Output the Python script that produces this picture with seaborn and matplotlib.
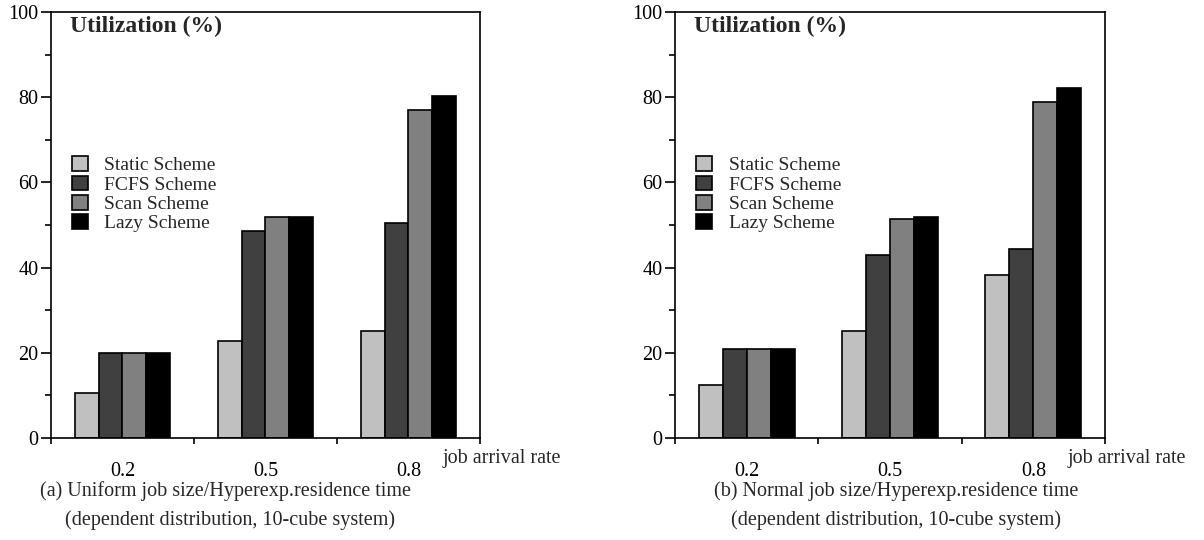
import matplotlib
matplotlib.use("Agg")
import matplotlib.pyplot as plt
import seaborn as sns
import pandas as pd
import numpy as np

# Job arrival rates (categories) and the four allocation schemes
rates = ["0.2", "0.5", "0.8"]
schemes = ["Static Scheme", "FCFS Scheme", "Scan Scheme", "Lazy Scheme"]
scheme_colors = ["#c0c0c0", "#404040", "#808080", "#000000"]

# (a) Uniform job size / hyperexponential residence time
static_a = [10.6, 22.8, 25.1]
fcfs_a = [20.0, 48.7, 50.4]
scan_a = [20.0, 51.8, 77.0]
lazy_a = [20.0, 51.8, 80.3]

# (b) Normal job size / hyperexponential residence time
static_b = [12.4, 25.1, 38.3]
fcfs_b = [21.0, 43.0, 44.4]
scan_b = [21.0, 51.4, 78.9]
lazy_b = [21.0, 51.9, 82.2]

y_ticks = [0, 20, 40, 60, 80, 100]
y_minor = [10, 30, 50, 70, 90]

captions_a = ["(a) Uniform job size/Hyperexp.residence time",
              "(dependent distribution, 10-cube system)"]
captions_b = ["(b) Normal job size/Hyperexp.residence time",
              "(dependent distribution, 10-cube system)"]

sns.set_theme(style="ticks")
plt.rcParams["font.family"] = ["Liberation Serif", "DejaVu Serif"]

W, H = 1204, 540
fig = plt.figure(figsize=(W / 100, H / 100), dpi=100)


def to_frame(series):
    rows = []
    for scheme, vals in zip(schemes, series):
        for rate, v in zip(rates, vals):
            rows.append({"rate": rate, "scheme": scheme, "util": v})
    return pd.DataFrame(rows)


def draw_panel(ax, series):
    df = to_frame(series)
    sns.barplot(data=df, x="rate", y="util", hue="scheme", order=rates,
                hue_order=schemes, palette=scheme_colors, saturation=1,
                width=0.67, gap=0, edgecolor="black", linewidth=1.2,
                errorbar=None, ax=ax)
    ax.set_xlim(-0.5, 2.5)
    ax.set_ylim(0, 100)
    ax.set_xlabel("")
    ax.set_ylabel("")

    for side in ["left", "right", "top", "bottom"]:
        ax.spines[side].set_visible(True)
        ax.spines[side].set_color("black")
        ax.spines[side].set_linewidth(1.2)

    # category labels centred under groups, tick marks at group boundaries
    ax.set_xticks(range(len(rates)))
    ax.set_xticklabels(rates)
    ax.set_xticks(np.arange(len(rates) + 1) - 0.5, minor=True)
    ax.tick_params(axis="x", which="major", length=0, pad=17, labelsize=14.5,
                   colors="black")
    ax.tick_params(axis="x", which="minor", length=4, width=1.2,
                   direction="out", color="black")

    ax.set_yticks(y_ticks)
    ax.set_yticks(y_minor, minor=True)
    ax.tick_params(axis="y", which="major", length=7, width=1.2, pad=2,
                   labelsize=14.5, colors="black")
    ax.tick_params(axis="y", which="minor", length=4, width=1.2,
                   color="black")

    ax.text(0.044, 0.966, "Utilization (%)", transform=ax.transAxes,
            ha="left", va="center", fontsize=17, fontweight="bold")
    ax.text(0.912, -0.047, "job arrival rate", transform=ax.transAxes,
            ha="left", va="center", fontsize=14.5, clip_on=False)

    sns.move_legend(ax, "upper left", bbox_to_anchor=(0.049, 0.661),
                    frameon=False, title=None, fontsize=14,
                    handlelength=0.82, handleheight=0.78,
                    handletextpad=0.85, labelspacing=0.06,
                    borderaxespad=0, borderpad=0)
    for h in ax.get_legend().legend_handles:
        h.set_edgecolor("black")
        h.set_linewidth(1.2)


ax_a = fig.add_axes([51 / W, 102 / H, 429 / W, 426 / H])
draw_panel(ax_a, [static_a, fcfs_a, scan_a, lazy_a])
ax_b = fig.add_axes([675 / W, 102 / H, 430 / W, 426 / H])
draw_panel(ax_b, [static_b, fcfs_b, scan_b, lazy_b])

# captions under each panel
fig.text(40 / W, 1 - 491 / H, captions_a[0], ha="left", va="center",
         fontsize=14.5)
fig.text(65 / W, 1 - 520 / H, captions_a[1], ha="left", va="center",
         fontsize=14.5)
fig.text(714 / W, 1 - 491 / H, captions_b[0], ha="left", va="center",
         fontsize=14.5)
fig.text(731 / W, 1 - 520 / H, captions_b[1], ha="left", va="center",
         fontsize=14.5)

fig.savefig("out.png", dpi=100)
